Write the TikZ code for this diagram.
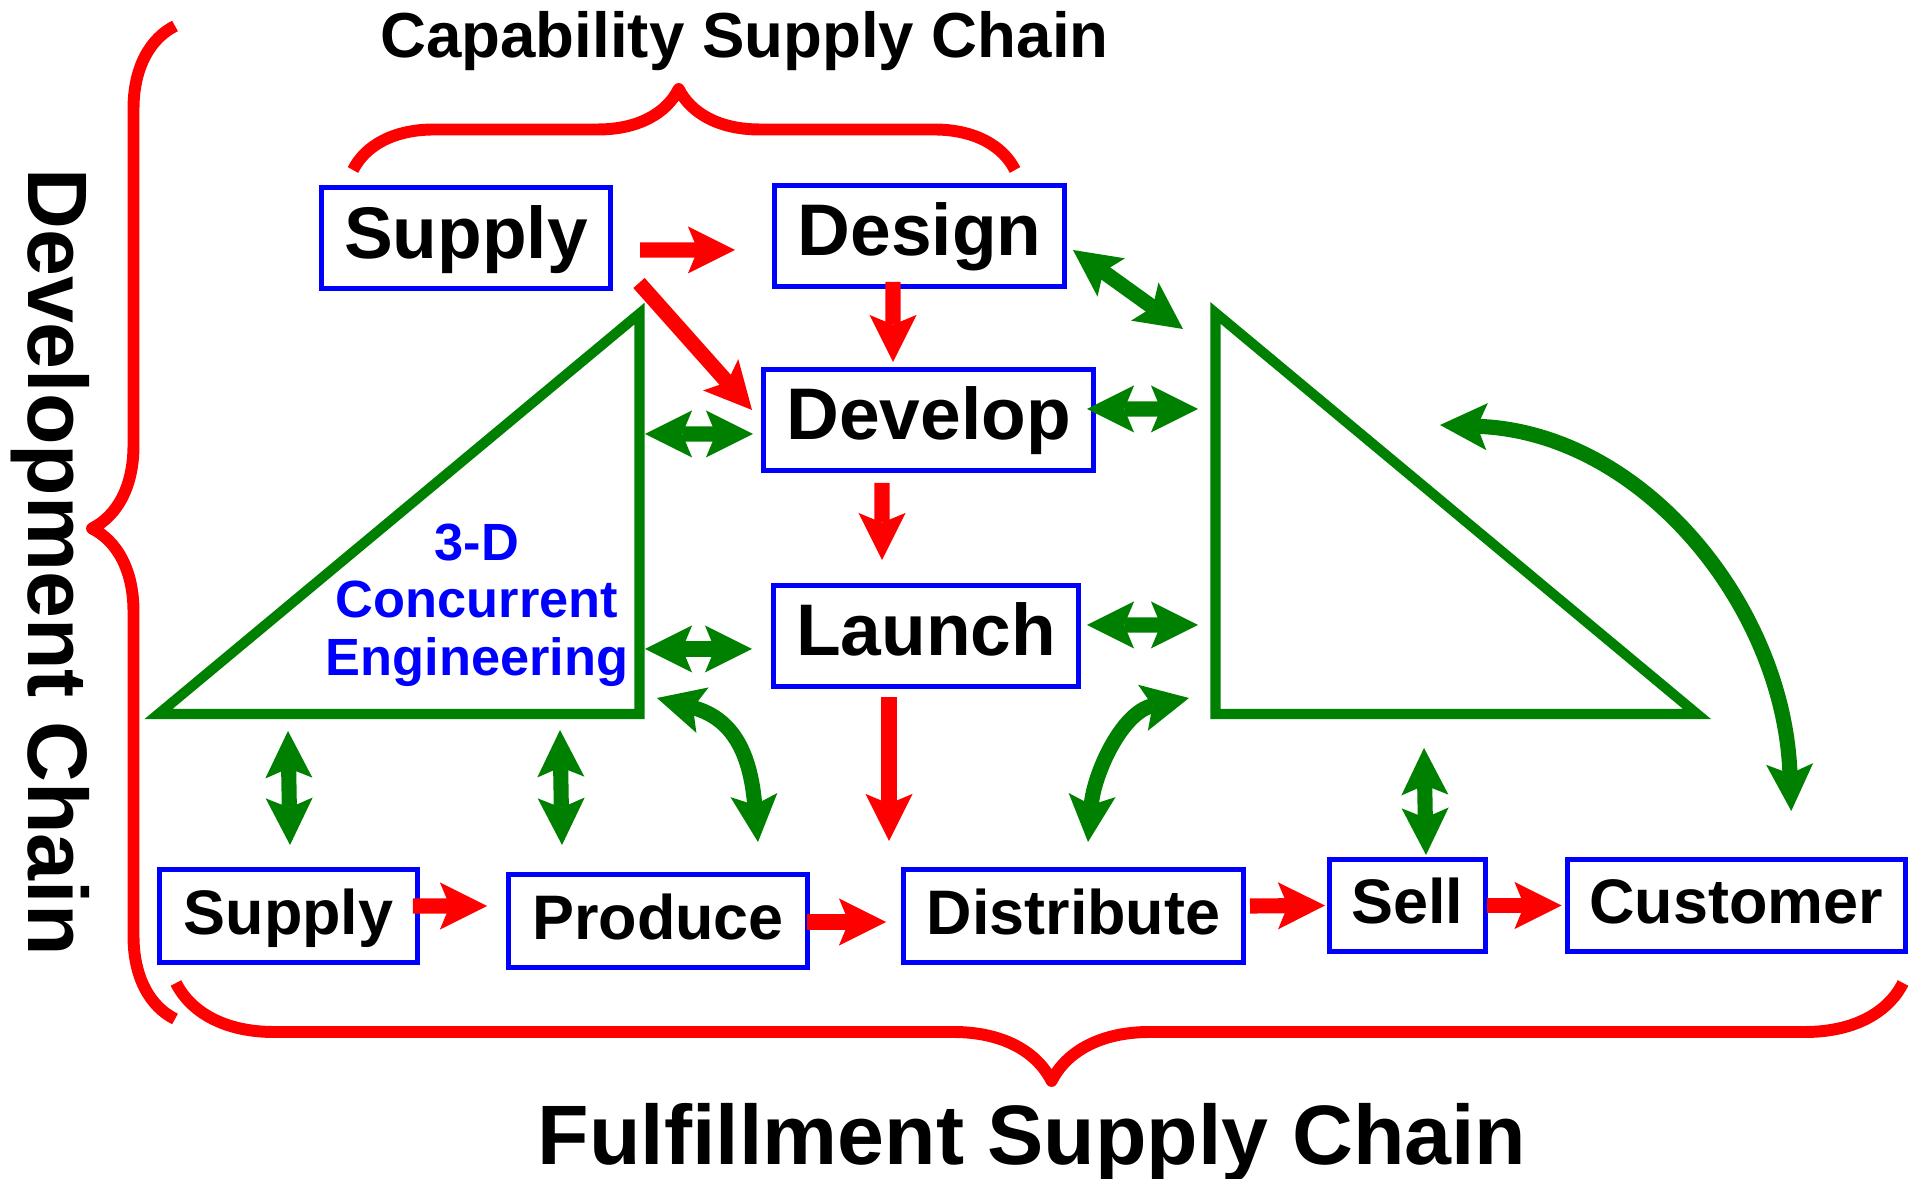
\documentclass[tikz,border=0pt]{standalone}
\usepackage{fontspec}
\setmainfont{Liberation Sans}
\usepackage{tikz}
\usetikzlibrary{arrows.meta,calc,decorations.pathreplacing,positioning}
\definecolor{dgreen}{rgb}{0,0.5,0}

\begin{document}
\begin{tikzpicture}[
  big/.style={draw=blue,line width=1.42pt,inner sep=0pt,minimum height=1.01cm,text height=15.6pt,text depth=4.4pt,font=\fontsize{20.8}{25}\selectfont\bfseries},
  small/.style={draw=blue,line width=1.42pt,inner sep=0pt,minimum height=0.93cm,text height=13.4pt,text depth=3pt,font=\fontsize{17.9}{21}\selectfont\bfseries},
  head/.tip={Stealth[length=13.4pt,width=13.4pt,inset=2.8pt,line width=0pt]},
  flow/.style={red,line width=4.3pt,-head},
  link/.style={dgreen,line width=4.3pt,head-head},
  curly/.style={red,line width=3.4pt,line join=round,decorate},
  tri/.style={dgreen,line width=2.9pt}]
\useasboundingbox (0,0) rectangle (19.19,-11.79);

% boxes
\node[big,minimum width=2.89cm] (A) at (4.66,-2.385) {Supply};
\node[big,minimum width=2.90cm] (B) at (9.195,-2.36) {Design};
\node[big,minimum width=3.30cm] (C) at (9.285,-4.20) {Develop};
\node[big,minimum width=3.05cm] (D) at (9.26,-6.36) {Launch};
\node[small,minimum width=2.58cm] (E) at (2.885,-9.16) {Supply};
\node[small,minimum width=2.99cm] (F) at (6.58,-9.21) {Produce};
\node[small,minimum width=3.40cm] (G) at (10.735,-9.16) {Distribute};
\node[small,minimum width=1.56cm,minimum height=0.92cm] (H) at (14.075,-9.055) {Sell};
\node[small,minimum width=3.385cm,minimum height=0.92cm] (I) at (17.3625,-9.055) {Customer};

% titles
\node[anchor=base,font=\fontsize{18.1}{22}\selectfont\bfseries] (T1) at (7.445,-0.58) {Capability Supply Chain};
\node[anchor=base,font=\fontsize{24}{29}\selectfont\bfseries] (T2) at (10.32,-11.645) {Fulfillment Supply Chain};
\node[anchor=base,rotate=-90,font=\fontsize{24}{29}\selectfont\bfseries] (T3) at (0.29,-5.62) {Development Chain};
\node[blue,align=center,font=\fontsize{14.9}{16.4}\selectfont\bfseries] (T4) at (4.77,-6.05) {3-D\\Concurrent\\Engineering};

% triangles
\draw[tri] (1.585,-7.14) -- (6.395,-3.136) -- (6.395,-7.14) -- cycle;
\draw[tri] (12.155,-3.13) -- (12.155,-7.14) -- (16.97,-7.14) -- cycle;
\coordinate (L1) at (6.45,-4.34);
\coordinate (L2) at (6.45,-6.49);
\coordinate (L3) at (2.88,-7.31);
\coordinate (L4) at (5.60,-7.30);
\coordinate (L5) at (6.57,-6.98);
\coordinate (R1) at (11.83,-3.29);
\coordinate (R2) at (11.98,-4.09);
\coordinate (R3) at (11.98,-6.25);
\coordinate (R4) at (11.89,-6.98);
\coordinate (R5) at (14.24,-7.48);
\coordinate (R6) at (14.40,-4.25);

% braces
\coordinate (Q1) at (3.53,-1.70);
\coordinate (Q2) at (10.15,-1.70);
\coordinate (Q3) at (1.75,-10.19);
\coordinate (Q4) at (1.75,-0.26);
\coordinate (Q5) at (19.03,-9.83);
\coordinate (Q6) at (1.76,-9.83);
\draw[curly,decoration={brace,amplitude=0.81cm,aspect=0.492}] (Q1) -- (Q2);
\draw[curly,decoration={brace,amplitude=0.83cm,aspect=0.494}] (Q3) -- (Q4);
\draw[curly,decoration={brace,amplitude=0.98cm,aspect=0.493}] (Q5) -- (Q6);

% red flow
\draw[flow] ([shift={(0.27,-0.115)}]A.east) -- ([shift={(-0.37,-0.14)}]B.west);
\draw[flow] ([shift={(0.26,0.085)}]A.south east) -- ([shift={(-0.09,0.10)}]C.west);
\draw[flow] ([shift={(-0.265,0.07)}]B.south) -- ([shift={(-0.355,0.05)}]C.north);
\draw[flow] ([shift={(-0.465,-0.10)}]C.south) -- ([shift={(-0.44,0.23)}]D.north);
\draw[flow] ([shift={(-0.37,-0.08)}]D.south) -- ([shift={(-1.845,0.26)}]G.north);
\draw[flow] ([shift={(-0.07,0.10)}]E.east) -- ([shift={(-0.19,0.15)}]F.west);
\draw[flow] ([shift={(-0.03,-0.01)}]F.east) -- ([shift={(-0.15,-0.06)}]G.west);
\draw[flow] ([shift={(0.04,0.10)}]G.east) -- ([shift={(-0.02,0)}]H.west);
\draw[flow] ([shift={(-0.015,0)}]H.east) -- ([shift={(-0.03,0)}]I.west);

% green links
\draw[link] ([shift={(0.06,-0.14)}]B.east) -- (R1);
\draw[link] ([shift={(-0.09,0.11)}]C.east) -- (R2);
\draw[link] ([shift={(0.06,0.11)}]D.east) -- (R3);
\draw[link] (L1) -- ([shift={(-0.08,-0.14)}]C.west);
\draw[link] (L2) -- ([shift={(-0.19,-0.13)}]D.west);
\draw[link] (L3) -- ([shift={(0.015,0.22)}]E.north);
\draw[link] (L4) -- ([shift={(-0.96,0.27)}]F.north);
\draw[link] (L5) to[out=-15,in=95,looseness=1.2] ([shift={(-0.52,0.30)}]F.north east);
\draw[link] ([shift={(0.145,0.25)}]G.north) to[out=85,in=192] (R4);
\draw[link] (R5) -- ([shift={(0.185,0.02)}]H.north);
\draw[link] (R6) to[out=-2,in=92] ([shift={(0.55,0.46)}]I.north);
\end{tikzpicture}
\end{document}
